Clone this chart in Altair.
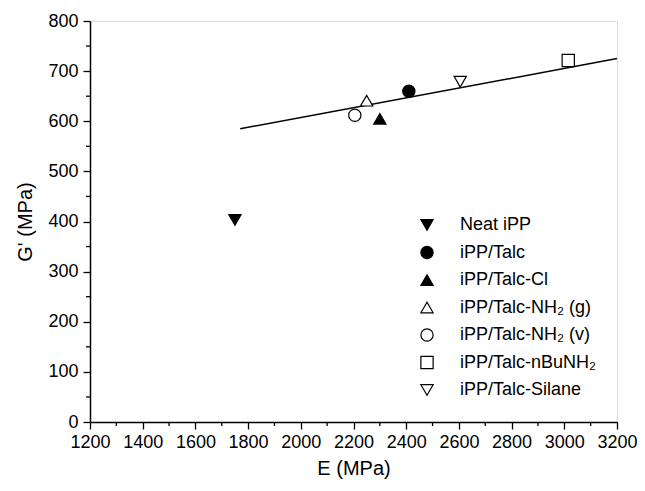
import altair as alt
import pandas as pd

samples = ["Neat iPP", "iPP/Talc", "iPP/Talc-Cl", "iPP/Talc-NH₂ (g)",
           "iPP/Talc-NH₂ (v)", "iPP/Talc-nBuNH₂", "iPP/Talc-Silane"]
E_vals = [1750, 2410, 2300, 2250, 2205, 3015, 2605]
G_vals = [403, 660, 605, 641, 612, 721, 679]
shapes = ["triangle-down", "circle", "triangle-up", "triangle-up",
          "circle", "square", "triangle-down"]
fills = ["black", "black", "black", "white", "white", "white", "white"]
strokes = ["black"] * 7

fit_E = [1770, 3200]
fit_G = [585, 725]

x_major = [1200, 1400, 1600, 1800, 2000, 2200, 2400, 2600, 2800, 3000, 3200]
x_minor = [1300, 1500, 1700, 1900, 2100, 2300, 2500, 2700, 2900, 3100]
y_major = [0, 100, 200, 300, 400, 500, 600, 700, 800]
y_minor = [50, 150, 250, 350, 450, 550, 650, 750]

W, H = 527, 401
FONT = "Liberation Sans"

pts = pd.DataFrame({"Sample": samples, "E": E_vals, "G": G_vals})
fit = pd.DataFrame({"E": fit_E, "G": fit_G})
xm = pd.DataFrame({"v": x_minor})
ym = pd.DataFrame({"v": y_minor})

xscale = alt.Scale(domain=[1200, 3200], nice=False, zero=False)
yscale = alt.Scale(domain=[0, 800], nice=False)

common = dict(grid=False, tickSize=7, labelFontSize=18, titleFontSize=20,
              labelFont=FONT, titleFont=FONT, titleFontWeight="normal",
              domainColor="black", tickColor="black", labelColor="black",
              titleColor="black", domainWidth=1.5, tickWidth=1.3,
              labelFlush=False, format="d")
xaxis = alt.Axis(values=x_major, title="E (MPa)", labelPadding=4,
                 titlePadding=7, **common)
yaxis = alt.Axis(values=y_major, title="G' (MPa)", labelPadding=5,
                 titlePadding=12, **common)

def leg():
    return alt.Legend(title=None, orient="none", legendX=328, legendY=195,
                      labelFontSize=18, labelFont=FONT, labelColor="black",
                      symbolSize=150, symbolStrokeWidth=1.2, rowPadding=9.5,
                      labelOffset=24, labelLimit=300)

line = alt.Chart(fit).mark_line(color="black", strokeWidth=1.5).encode(
    x=alt.X("E:Q", scale=xscale, axis=xaxis),
    y=alt.Y("G:Q", scale=yscale, axis=yaxis),
)

points = alt.Chart(pts).mark_point(filled=True, strokeWidth=1.2,
                                   size=150, opacity=1).encode(
    x=alt.X("E:Q", scale=xscale),
    y=alt.Y("G:Q", scale=yscale),
    shape=alt.Shape("Sample:N", scale=alt.Scale(domain=samples, range=shapes),
                    legend=leg()),
    fill=alt.Fill("Sample:N", scale=alt.Scale(domain=samples, range=fills),
                  legend=leg()),
    stroke=alt.Stroke("Sample:N", scale=alt.Scale(domain=samples, range=strokes),
                      legend=leg()),
)

xminor = alt.Chart(xm).mark_rule(color="black", strokeWidth=1.3, clip=False).encode(
    x=alt.X("v:Q", scale=xscale),
    y=alt.value(H), y2=alt.value(H + 4),
)
yminor = alt.Chart(ym).mark_rule(color="black", strokeWidth=1.3, clip=False).encode(
    y=alt.Y("v:Q", scale=yscale),
    x=alt.value(0), x2=alt.value(-4),
)

chart = alt.layer(line, points, xminor, yminor).properties(
    width=W, height=H,
    autosize=alt.AutoSizeParams(type="none"),
    padding={"left": 82, "top": 13, "right": 20, "bottom": 61},
).configure_view(stroke=None).configure(background="white")

chart.save("out.html", embed_options={"renderer": "svg", "actions": False})
